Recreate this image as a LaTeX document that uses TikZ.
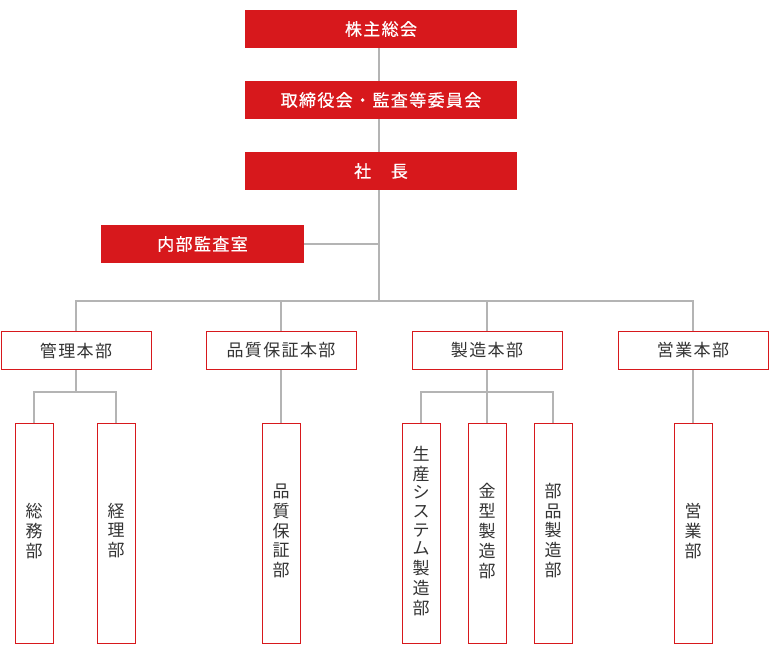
\documentclass[tikz,border=0pt]{standalone}
\usepackage{fontspec}
\newfontfamily\jp[LetterSpace=8]{Noto Sans CJK JP}
\newfontfamily\jpm[LetterSpace=8,FakeBold=0.6]{Noto Sans CJK JP}
\newfontfamily\jpv{Noto Sans CJK JP}
\definecolor{cred}{HTML}{D7181C}
\definecolor{cline}{HTML}{B4B4B4}
\definecolor{ctext}{HTML}{333333}
\begin{document}
\begin{tikzpicture}[x=1pt,y=-1pt,
  redbox/.style={fill=cred,draw=none,text=white,font=\jpm\fontsize{17}{19}\selectfont,inner sep=0pt},
  whitebox/.style={draw=cred,line width=1pt,fill=white,text=ctext,font=\jp\fontsize{17}{19}\selectfont,inner sep=0pt},
  vbox/.style={draw=cred,line width=1pt,fill=white,text=ctext,inner sep=0pt},
  conn/.style={draw=cline,line width=2pt}]
\useasboundingbox (0,0) rectangle (770,654);
\coordinate (trunkbot) at (379,301);
\coordinate (naibujn) at (379,244);
% red boxes
\node[redbox,minimum width=272pt,minimum height=38pt] (kabu) at (381,29) {株主総会};
\node[redbox,minimum width=272pt,minimum height=38pt] (tori) at (381,100) {取締役会・監査等委員会};
\node[redbox,minimum width=272pt,minimum height=38pt] (sha) at (381,171) {社　長};
\node[redbox,minimum width=203pt,minimum height=38pt] (naibu) at (202.5,244) {内部監査室};
% second level
\foreach \n/\x/\t in {kanri/76/管理本部, hinshitsu/281/品質保証本部, seizo/487/製造本部, eigyo/693/営業本部}{
  \node[whitebox,minimum width=150pt,minimum height=38pt] (\n) at (\x,350.5) {\t};
}
% third level
\newcommand{\vtext}[1]{\jpv\fontsize{17}{18.7}\selectfont\begin{tabular}{@{}c@{}}#1\end{tabular}}
\node[vbox,minimum width=38pt,minimum height=220pt] (somu) at (34,533) {\vtext{総\\務\\部}};
\node[vbox,minimum width=38pt,minimum height=220pt] (keiri) at (116,533) {\vtext{経\\理\\部}};
\node[vbox,minimum width=38pt,minimum height=220pt] (hinbu) at (281,533) {\vtext{品\\質\\保\\証\\部}};
\node[vbox,minimum width=38pt,minimum height=220pt] (seisan) at (421,533) {\vtext{生\\産\\シ\\ス\\テ\\ム\\製\\造\\部}};
\node[vbox,minimum width=38pt,minimum height=220pt] (kanagata) at (487,533) {\vtext{金\\型\\製\\造\\部}};
\node[vbox,minimum width=38pt,minimum height=220pt] (buhin) at (553,533) {\vtext{部\\品\\製\\造\\部}};
\node[vbox,minimum width=38pt,minimum height=220pt] (eigyobu) at (693,533) {\vtext{営\\業\\部}};
% connectors
\draw[conn] (kabu.south -| trunkbot) -- (tori.north -| trunkbot);
\draw[conn] (tori.south -| trunkbot) -- (sha.north -| trunkbot);
\draw[conn] (sha.south -| trunkbot) -- (trunkbot);
\draw[conn] (naibu.east) -- (naibujn);
\draw[conn] (kanri.north) |- (trunkbot) -| (eigyo.north);
\draw[conn] (hinshitsu.north) -- (hinshitsu.north |- trunkbot);
\draw[conn] (seizo.north) -- (seizo.north |- trunkbot);
\coordinate (kj) at (76,392);
\draw[conn] (kanri.south) -- (kj);
\draw[conn] (somu.north) |- (kj) -| (keiri.north);
\draw[conn] (hinshitsu.south) -- (hinbu.north);
\coordinate (sj) at (487,392);
\draw[conn] (seizo.south) -- (kanagata.north);
\draw[conn] (seisan.north) |- (sj) -| (buhin.north);
\draw[conn] (eigyo.south) -- (eigyobu.north);
\end{tikzpicture}
\end{document}
